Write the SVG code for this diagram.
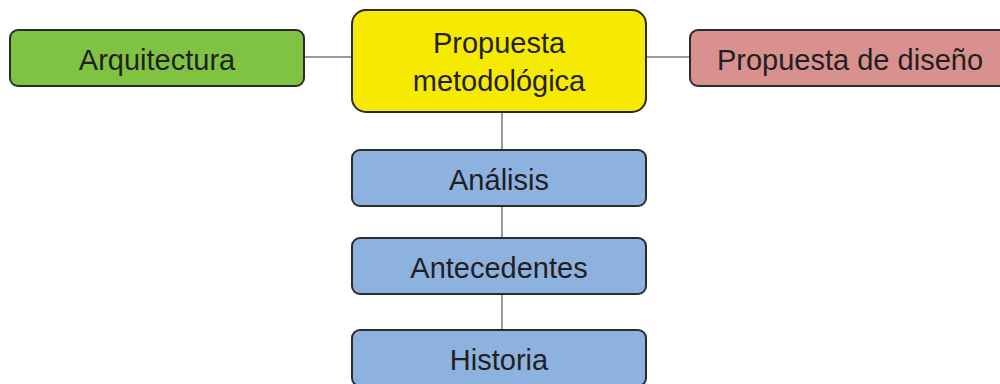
<svg xmlns="http://www.w3.org/2000/svg" width="1000" height="384" viewBox="0 0 1000 384">
<style>
.box{stroke:#2b2b2b;stroke-width:2}
.lbl{font-family:"Liberation Sans",Arial,sans-serif;font-size:29px;fill:#231f20;text-anchor:middle}
.con{stroke:#9a9a9a;stroke-width:2;fill:none}
</style>
<rect width="1000" height="384" fill="#ffffff"/>
<g id="connectors">
<line class="con" x1="304" y1="57" x2="352" y2="57"/>
<line class="con" x1="646" y1="57" x2="690" y2="57"/>
<line class="con" x1="502" y1="112" x2="502" y2="150"/>
<line class="con" x1="502" y1="206" x2="502" y2="238"/>
<line class="con" x1="502" y1="294" x2="502" y2="330"/>
</g>
<g id="arquitectura">
<rect class="box" x="10" y="30" width="294" height="56" rx="8" fill="#80c342"/>
<text class="lbl" x="157" y="70">Arquitectura</text>
</g>
<g id="propuesta-metodologica">
<rect class="box" x="352" y="10" width="294" height="102" rx="14" fill="#f5ea00"/>
<text class="lbl" x="499" y="53">Propuesta</text>
<text class="lbl" x="499" y="91">metodológica</text>
</g>
<g id="propuesta-diseno">
<rect class="box" x="690" y="30" width="320" height="56" rx="8" fill="#d99190"/>
<text class="lbl" x="850" y="70">Propuesta de diseño</text>
</g>
<g id="analisis">
<rect class="box" x="352" y="150" width="294" height="56" rx="8" fill="#8db2e0"/>
<text class="lbl" x="499" y="190">Análisis</text>
</g>
<g id="antecedentes">
<rect class="box" x="352" y="238" width="294" height="56" rx="8" fill="#8db2e0"/>
<text class="lbl" x="499" y="278">Antecedentes</text>
</g>
<g id="historia">
<rect class="box" x="352" y="330" width="294" height="56" rx="8" fill="#8db2e0"/>
<text class="lbl" x="499" y="370">Historia</text>
</g>
</svg>
